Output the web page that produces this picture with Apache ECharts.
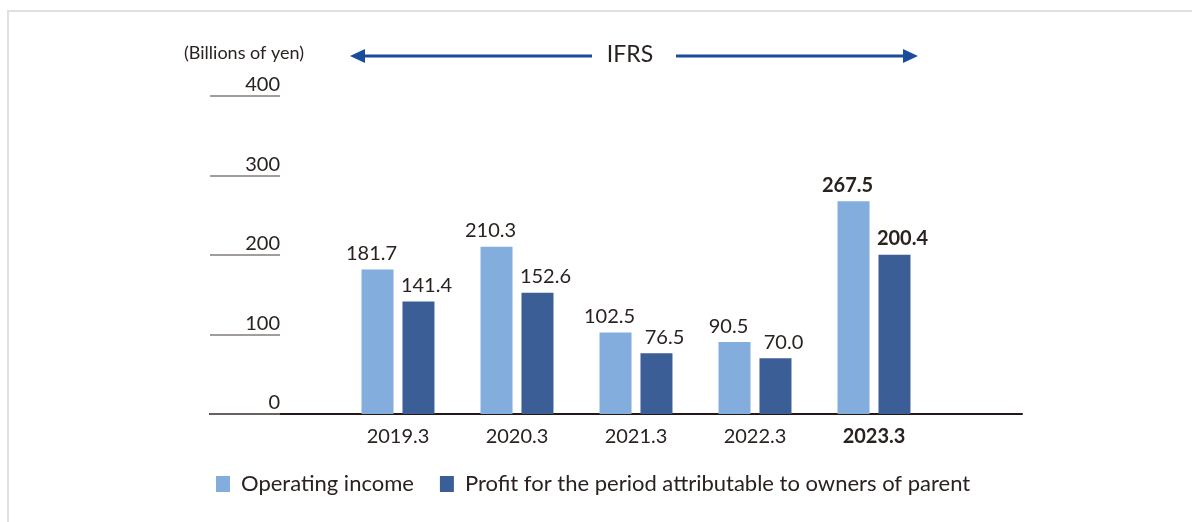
<!DOCTYPE html>
<html>
<head>
<meta charset="utf-8">
<script src="https://cdn.jsdelivr.net/npm/echarts@6/dist/echarts.min.js"></script>
<style>
  html, body { margin: 0; padding: 0; background: #fff; }
  #frame { position: absolute; left: 7px; top: 10px; right: 0; bottom: 0;
           border-top: 2px solid #e0e0e0; border-left: 2px solid #e0e0e0; }
  #chart { position: absolute; left: 0; top: 0; width: 1192px; height: 522px; }
</style>
</head>
<body>
<div id="frame"></div>
<div id="chart"></div>
<script>
// Fiscal years and results (billions of yen)
const categories = ['2019.3', '2020.3', '2021.3', '2022.3', '2023.3'];
const operatingIncome = [181.7, 210.3, 102.5, 90.5, 267.5];
const profitToOwners = [141.4, 152.6, 76.5, 70.0, 200.4];
const seriesNames = ['Operating income', 'Profit for the period attributable to owners of parent'];
const yMin = 0, yMax = 400, yStep = 100;
const unitLabel = '(Billions of yen)';
const standardLabel = 'IFRS';

const FONT = 'Lato, "Noto Sans", sans-serif';
const TEXT = '#2a2220';
const LIGHT = '#82addd';
const DARK = '#3c5e97';
const ARROW = '#1b4c9c';
const last = categories.length - 1;

function barData(values) {
  return values.map((v, i) => i === last ? { value: v, label: { fontWeight: 'bold' } } : v);
}

const chart = echarts.init(document.getElementById('chart'), null, { renderer: 'canvas' });

chart.setOption({
  animation: false,
  backgroundColor: 'transparent',
  textStyle: { fontFamily: FONT },
  grid: [
    // frame grid: value scale and baseline
    { left: 210, right: 170, top: 96, bottom: 108 },
    // bar grid
    { left: 338.5, right: 258.5, top: 96, bottom: 108 }
  ],
  xAxis: [
    { gridIndex: 0, type: 'value', min: 0, max: 1,
      axisLine: { show: true, lineStyle: { color: '#231815', width: 2 } },
      axisTick: { show: false }, axisLabel: { show: false }, splitLine: { show: false } },
    { gridIndex: 1, type: 'category', data: categories,
      axisLine: { show: false }, axisTick: { show: false }, splitLine: { show: false },
      axisLabel: {
        margin: 13, fontSize: 20, color: TEXT, fontFamily: FONT,
        formatter: (v, i) => i === last ? '{b|' + v + '}' : v,
        rich: { b: { fontSize: 20, fontWeight: 'bold', color: TEXT, fontFamily: FONT } }
      } }
  ],
  yAxis: [
    { gridIndex: 0, type: 'value', min: yMin, max: yMax, interval: yStep,
      axisLine: { show: false },
      axisTick: { show: true, inside: true, length: 70, lineStyle: { color: '#837b79', width: 1.6 } },
      splitLine: { show: false },
      axisLabel: { margin: -70, fontSize: 20, color: TEXT, fontFamily: FONT,
                   verticalAlign: 'bottom', padding: [0, 0, 1, 0] } },
    { gridIndex: 1, type: 'value', min: yMin, max: yMax, interval: yStep, show: false }
  ],
  legend: {
    left: 211, top: 468, itemWidth: 14, itemHeight: 16, itemGap: 26,
    icon: 'rect',
    textStyle: { fontSize: 22, color: TEXT, fontFamily: FONT, padding: [0, 0, 0, 6] },
    data: seriesNames
  },
  series: [
    { name: seriesNames[0], type: 'bar', xAxisIndex: 1, yAxisIndex: 1,
      data: barData(operatingIncome), barWidth: 32, barGap: '28%',
      itemStyle: { color: LIGHT },
      label: { show: true, position: 'top', distance: 6, offset: [-6, 0],
               fontSize: 20, color: TEXT, fontFamily: FONT,
               formatter: p => Number(p.value).toFixed(1) } },
    { name: seriesNames[1], type: 'bar', xAxisIndex: 1, yAxisIndex: 1,
      data: barData(profitToOwners), barWidth: 32, barGap: '28%',
      itemStyle: { color: DARK },
      label: { show: true, position: 'top', distance: 6, offset: [8, 0],
               fontSize: 20, color: TEXT, fontFamily: FONT,
               formatter: p => Number(p.value).toFixed(1) } }
  ],
  graphic: [
    { type: 'text', left: 184, top: 44,
      style: { text: unitLabel, fontSize: 18, fill: TEXT, fontFamily: FONT } },
    { type: 'text', x: 630, y: 55,
      style: { text: standardLabel, fontSize: 23, fill: TEXT, fontFamily: FONT,
               textAlign: 'center', textVerticalAlign: 'middle' } },
    // left arrow
    { type: 'line', shape: { x1: 362, y1: 56, x2: 592, y2: 56 },
      style: { stroke: ARROW, lineWidth: 3 } },
    { type: 'polygon', shape: { points: [[350, 56], [365, 49], [365, 63]] },
      style: { fill: ARROW } },
    // right arrow
    { type: 'line', shape: { x1: 676, y1: 56, x2: 906, y2: 56 },
      style: { stroke: ARROW, lineWidth: 3 } },
    { type: 'polygon', shape: { points: [[918, 56], [903, 49], [903, 63]] },
      style: { fill: ARROW } }
  ]
});
</script>
</body>
</html>
